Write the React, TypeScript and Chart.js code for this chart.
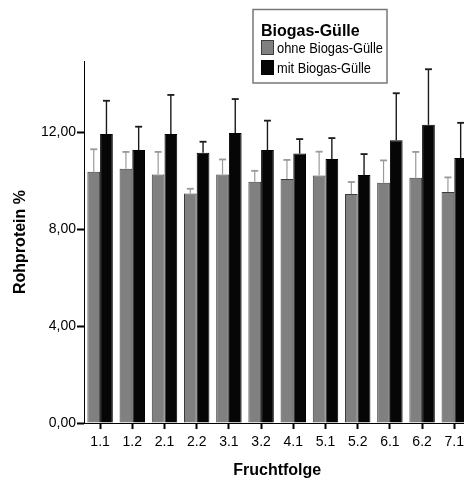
import React, { useEffect, useRef } from "react";
import { Chart, registerables } from "chart.js";

Chart.register(...registerables);

const categories = ["1.1", "1.2", "2.1", "2.2", "3.1", "3.2", "4.1", "5.1", "5.2", "6.1", "6.2", "7.1"];
const ohneMean = [10.36, 10.49, 10.25, 9.47, 10.25, 9.95, 10.06, 10.21, 9.44, 9.91, 10.12, 9.53];
const ohneSD = [0.93, 0.69, 0.93, 0.19, 0.62, 0.45, 0.79, 0.98, 0.5, 0.92, 1.06, 0.6];
const mitMean = [11.92, 11.26, 11.92, 11.15, 11.96, 11.26, 11.11, 10.89, 10.23, 11.66, 12.3, 10.93];
const mitSD = [1.37, 0.96, 1.61, 0.45, 1.4, 1.21, 0.6, 0.86, 0.86, 1.94, 2.29, 1.45];
const yTickValues = [0, 4, 8, 12];
const yMax = 14.93;
const seriesLabels = ["ohne Biogas-Gülle", "mit Biogas-Gülle"];
const legendTitle = "Biogas-Gülle";
const xTitle = "Fruchtfolge";
const yTitle = "Rohprotein %";

const FONT = '"Liberation Sans", Arial, sans-serif';
const GRAY = "#808080";
const BLACK = "#060606";

const errorBarPlugin = {
  id: "errorBars",
  afterDatasetsDraw(chart: any) {
    const ctx = chart.ctx;
    const y = chart.scales.y;
    const sdSets = [ohneSD, mitSD];
    const colors = ["#9a9a9a", "#1a1a1a"];
    chart.data.datasets.forEach((ds: any, di: number) => {
      const meta = chart.getDatasetMeta(di);
      meta.data.forEach((bar: any, i: number) => {
        const v = ds.data[i];
        const sd = sdSets[di][i];
        const yBase = y.getPixelForValue(v);
        const yTop = y.getPixelForValue(v + sd);
        ctx.save();
        ctx.strokeStyle = colors[di];
        ctx.lineWidth = di === 0 ? 1.2 : 1.4;
        ctx.beginPath();
        ctx.moveTo(bar.x, yBase);
        ctx.lineTo(bar.x, yTop);
        ctx.stroke();
        ctx.lineWidth = 1.8;
        ctx.beginPath();
        ctx.moveTo(bar.x - 3.5, yTop);
        ctx.lineTo(bar.x + 3.5, yTop);
        ctx.stroke();
        ctx.restore();
      });
    });
  },
};

const legendPlugin = {
  id: "boxLegend",
  afterDraw(chart: any) {
    const ctx = chart.ctx;
    ctx.save();
    ctx.strokeStyle = "#777777";
    ctx.lineWidth = 1.5;
    ctx.strokeRect(253, 9.5, 134, 73.5);
    ctx.fillStyle = "#000";
    ctx.textBaseline = "alphabetic";
    ctx.textAlign = "left";
    ctx.font = `bold 16px ${FONT}`;
    ctx.fillText(legendTitle, 261, 36, 100);
    const fills = [GRAY, BLACK];
    const strokes = ["#3c3c3c", "#000"];
    const widths = [106, 94];
    seriesLabels.forEach((lab, i) => {
      const top = 40 + i * 20;
      ctx.fillStyle = fills[i];
      ctx.fillRect(261, top, 13, 15);
      ctx.strokeStyle = strokes[i];
      ctx.lineWidth = 1;
      ctx.strokeRect(261.5, top + 0.5, 12, 14);
      ctx.fillStyle = "#000";
      ctx.font = `15px ${FONT}`;
      ctx.fillText(lab, 277, top + 12.5, widths[i]);
    });
    ctx.restore();
  },
};

export default function App() {
  const canvasRef = useRef<HTMLCanvasElement | null>(null);

  useEffect(() => {
    if (!canvasRef.current) return;
    const chart = new Chart(canvasRef.current, {
      type: "bar",
      data: {
        labels: categories,
        datasets: [
          {
            label: seriesLabels[0],
            data: ohneMean,
            backgroundColor: GRAY,
            borderColor: "#3c3c3c",
            borderWidth: 1,
            categoryPercentage: 0.79,
            barPercentage: 1,
          },
          {
            label: seriesLabels[1],
            data: mitMean,
            backgroundColor: BLACK,
            borderColor: "#000000",
            borderWidth: 1,
            categoryPercentage: 0.79,
            barPercentage: 1,
          },
        ],
      },
      options: {
        responsive: true,
        maintainAspectRatio: false,
        animation: false,
        layout: { padding: { top: 61, right: 1.6, bottom: 0, left: 0 } },
        plugins: {
          legend: { display: false },
          tooltip: { enabled: false },
        },
        scales: {
          x: {
            grid: {
              display: true,
              drawOnChartArea: false,
              drawTicks: true,
              offset: false,
              tickLength: 6,
              tickWidth: 2,
              tickColor: "#000",
            },
            border: { display: true, color: "#000", width: 1 },
            ticks: {
              color: "#000",
              font: { family: FONT, size: 14 },
              padding: 5,
              autoSkip: false,
              maxRotation: 0,
              minRotation: 0,
            },
            title: {
              display: true,
              text: xTitle,
              color: "#000",
              font: { family: FONT, size: 16, weight: "bold" },
              padding: { top: 0, bottom: 0 },
            },
            afterFit(scale: any) {
              scale.height = 57;
            },
          },
          y: {
            min: 0,
            max: yMax,
            grid: {
              display: true,
              drawOnChartArea: false,
              drawTicks: true,
              tickLength: 7,
              tickWidth: 2,
              tickColor: "#000",
            },
            border: { display: true, color: "#000", width: 1 },
            ticks: {
              color: "#000",
              font: { family: FONT, size: 14 },
              padding: 1,
              callback: (v: any) => Number(v).toFixed(2).replace(".", ","),
            },
            afterBuildTicks(scale: any) {
              scale.ticks = yTickValues.map((v) => ({ value: v }));
            },
            title: {
              display: true,
              text: yTitle,
              color: "#000",
              font: { family: FONT, size: 16, weight: "bold" },
              padding: { top: 11, bottom: 0 },
            },
            afterFit(scale: any) {
              scale.width = 84;
            },
          },
        },
      },
      plugins: [errorBarPlugin, legendPlugin],
    });
    return () => chart.destroy();
  }, []);

  return (
    <div style={{ position: "absolute", left: 0, top: 0, width: 464, height: 480, overflow: "hidden", background: "#fff" }}>
      <div style={{ position: "relative", width: 472, height: 480 }}>
        <canvas ref={canvasRef} />
      </div>
    </div>
  );
}
